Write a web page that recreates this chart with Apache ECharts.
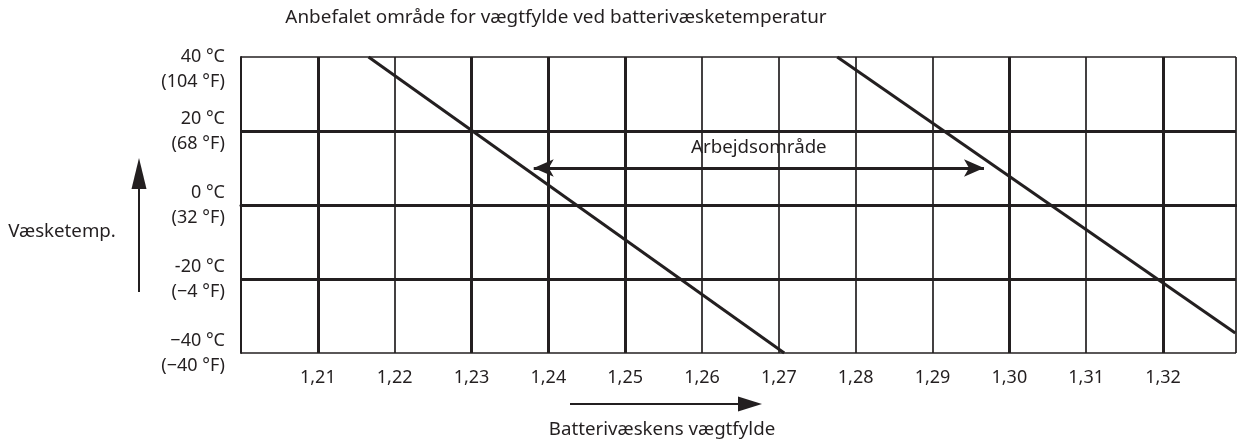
<!DOCTYPE html>
<html>
<head>
<meta charset="utf-8">
<script src="https://cdn.jsdelivr.net/npm/echarts@6/dist/echarts.min.js"></script>
<style>
  html, body { margin: 0; padding: 0; background: #fff; }
  #chart { width: 1237px; height: 439px; }
</style>
</head>
<body>
<div id="chart"></div>
<script>
// Texts
const titleText = 'Anbefalet område for vægtfylde ved batterivæsketemperatur';
const xName = 'Batterivæskens vægtfylde';
const yName = 'Væsketemp.';
const rangeLabel = 'Arbejdsområde';

// Axis ticks and their labels
const gravityTicks = [1.21, 1.22, 1.23, 1.24, 1.25, 1.26, 1.27, 1.28, 1.29, 1.30, 1.31, 1.32];
const gravityTickLabels = ['1,21', '1,22', '1,23', '1,24', '1,25', '1,26', '1,27', '1,28', '1,29', '1,30', '1,31', '1,32'];
const tempTicks = [-40, -20, 0, 20, 40];
const tempCelsius = ['\u221240 °C', '-20 °C', '0 °C', '20 °C', '40 °C'];
const tempFahrenheit = ['(\u221240 °F)', '(\u22124 °F)', '(32 °F)', '(68 °F)', '(104 °F)'];

// Limit lines: [specific gravity, electrolyte temperature °C]
const lowLimit = [[1.2166, 40], [1.2707, -40]];
const highLimit = [[1.2776, 40], [1.3294, -34.6]];

// Working range arrow at 10 °C
const rangeFrom = [1.2381, 10];
const rangeTo = [1.2967, 10];

// Grid lines printed heavier
const heavyGravity = [1.21, 1.23, 1.24, 1.25, 1.30, 1.32];
const heavyTemp = [20, -20];

const FONT = '"Noto Sans", sans-serif';
const INK = '#231f20';

const chart = echarts.init(document.getElementById('chart'), null, { renderer: 'canvas' });

function gravityLabel(v) {
  const i = gravityTicks.findIndex(t => Math.abs(t - v) < 1e-6);
  return i < 0 ? '' : gravityTickLabels[i];
}
function tempLabel(v) {
  const i = tempTicks.indexOf(v);
  if (i < 0) return '';
  const s = '{t|' + tempCelsius[i] + '}\n{t|' + tempFahrenheit[i] + '}';
  // the top label sits below its grid line
  return i === tempTicks.length - 1 ? '{pad| }\n' + s : s;
}

const option = {
  animation: false,
  backgroundColor: '#fff',
  grid: { left: 241, right: 1, top: 57, bottom: 86, containLabel: false },
  xAxis: {
    type: 'value',
    min: 1.2,
    max: 1.3295,
    interval: 0.01,
    axisLine: { show: true, lineStyle: { color: INK, width: 3 } },
    axisTick: { show: false },
    splitLine: { show: true, lineStyle: { color: INK, width: 1.7 } },
    axisLabel: {
      showMinLabel: false,
      showMaxLabel: false,
      margin: 16,
      fontFamily: FONT,
      fontSize: 18,
      color: INK,
      formatter: gravityLabel
    }
  },
  yAxis: {
    type: 'value',
    min: -40,
    max: 40,
    interval: 20,
    axisLine: { show: true, lineStyle: { color: INK, width: 2 } },
    axisTick: { show: false },
    splitLine: { show: true, lineStyle: { color: INK, width: 1.7 } },
    axisLabel: {
      margin: 16,
      formatter: tempLabel,
      rich: {
        t: { fontFamily: FONT, fontSize: 18, lineHeight: 25, color: INK, align: 'right' },
        pad: { fontFamily: FONT, fontSize: 16, lineHeight: 24 }
      }
    }
  },
  series: [
    {
      // heavier grid lines
      type: 'line',
      data: [],
      silent: true,
      markLine: {
        silent: true,
        symbol: ['none', 'none'],
        label: { show: false },
        lineStyle: { color: INK, width: 3, type: 'solid' },
        data: heavyGravity.map(v => ({ xAxis: v })).concat(heavyTemp.map(v => ({ yAxis: v })))
      }
    },
    {
      type: 'line',
      data: lowLimit,
      symbol: 'none',
      silent: true,
      lineStyle: { color: INK, width: 3 }
    },
    {
      type: 'line',
      data: highLimit,
      symbol: 'none',
      silent: true,
      lineStyle: { color: INK, width: 3 }
    },
    {
      type: 'line',
      data: [],
      silent: true,
      markLine: {
        silent: true,
        symbol: ['arrow', 'arrow'],
        symbolSize: [13, 20],
        lineStyle: { color: INK, width: 3, type: 'solid' },
        label: {
          show: true,
          position: 'middle',
          formatter: rangeLabel,
          distance: 11,
          fontFamily: FONT,
          fontSize: 18.7,
          color: INK
        },
        data: [[{ coord: rangeFrom }, { coord: rangeTo }]]
      }
    }
  ],
  graphic: [
    {
      type: 'text', x: 556, y: 18,
      style: { text: titleText, font: '18.9px ' + FONT, fill: INK, textAlign: 'center', textVerticalAlign: 'middle' }
    },
    {
      type: 'text', x: 62, y: 232,
      style: { text: yName, font: '18.7px ' + FONT, fill: INK, textAlign: 'center', textVerticalAlign: 'middle' }
    },
    {
      type: 'line',
      shape: { x1: 139, y1: 186, x2: 139, y2: 292 },
      style: { stroke: INK, lineWidth: 2 }
    },
    {
      type: 'polygon',
      shape: { points: [[139, 158], [131.5, 189], [146.5, 189]] },
      style: { fill: INK }
    },
    {
      type: 'line',
      shape: { x1: 570, y1: 404, x2: 742, y2: 404 },
      style: { stroke: INK, lineWidth: 2 }
    },
    {
      type: 'polygon',
      shape: { points: [[762, 404], [738, 396.5], [738, 411.5]] },
      style: { fill: INK }
    },
    {
      type: 'text', x: 662, y: 430,
      style: { text: xName, font: '18.7px ' + FONT, fill: INK, textAlign: 'center', textVerticalAlign: 'middle' }
    }
  ]
};

chart.setOption(option);
</script>
</body>
</html>
